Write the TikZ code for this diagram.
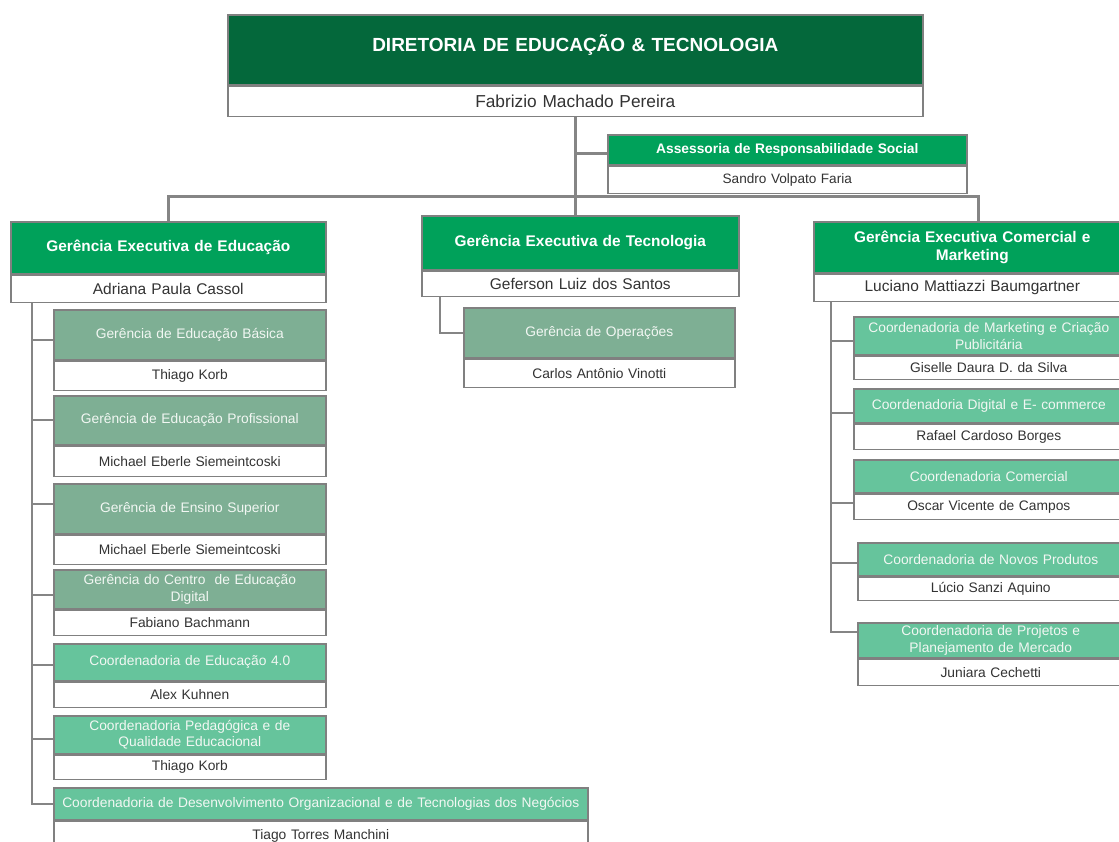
\documentclass[tikz,border=0pt]{standalone}
\usepackage{fontspec}
\setmainfont{Liberation Sans}
\usetikzlibrary{calc}
\definecolor{topgreen}{HTML}{04683B}
\definecolor{exgreen}{HTML}{00A15A}
\definecolor{mutedgreen}{HTML}{7EAF94}
\definecolor{lightgreen}{HTML}{66C49C}
\definecolor{bordergray}{HTML}{808080}
\definecolor{linegray}{HTML}{858585}
\definecolor{nametext}{HTML}{333333}
\definecolor{hdrtext}{HTML}{F2F7F3}
\begin{document}
\begin{tikzpicture}[x=1pt,y=-1pt,
  hdr/.style n args={2}{draw=bordergray, line width=1.6pt, anchor=north west,
     inner xsep=0pt, inner ysep=0pt, align=center, text=white,
     minimum width=#1pt, text width=#1pt, minimum height=#2pt},
  nm/.style n args={2}{draw=bordergray, line width=1.6pt, anchor=north west, fill=white,
     inner xsep=0pt, inner ysep=0pt, align=center, text=nametext,
     minimum width=#1pt, text width=#1pt, minimum height=#2pt},
  topfont/.style={font=\fontsize{19}{22}\selectfont\bfseries, text depth=13pt},
  topname/.style={font=\fontsize{17.3}{20}\selectfont},
  exfont/.style={font=\fontsize{15.4}{18.5}\selectfont\bfseries},
  exname/.style={font=\fontsize{15.5}{18}\selectfont},
  assfont/.style={font=\fontsize{13.8}{16}\selectfont\bfseries},
  assname/.style={font=\fontsize{13.6}{16}\selectfont},
  subfont/.style={font=\fontsize{13.8}{16.8}\selectfont, text=hdrtext},
  subname/.style={font=\fontsize{13.8}{16}\selectfont},
  link/.style={draw=linegray, line width=3pt},
  branch/.style={draw=linegray, line width=2pt}
]
\useasboundingbox (0,0) rectangle (1119,841);
\clip (0,0) rectangle (1119,841);

\coordinate (bus) at (0,196);

% ---------- top
\node[hdr={695}{70}, fill=topgreen, topfont] (top) at (227,14) {DIRETORIA DE EDUCAÇÃO \& TECNOLOGIA};
\node[nm={695}{30}, topname] (topn) at (top.south west) {Fabrizio Machado Pereira};

% ---------- assessoria
\node[hdr={359}{30}, fill=exgreen, assfont] (ass) at (607,134) {Assessoria de Responsabilidade Social};
\node[nm={359}{27}, assname] (assn) at (ass.south west) {Sandro Volpato Faria};

% ---------- executives
\node[hdr={315}{52}, fill=exgreen, exfont] (ed) at (10,221) {Gerência Executiva de Educação};
\node[nm={315}{27}, exname] (edn) at (ed.south west) {Adriana Paula Cassol};

\node[hdr={317}{54}, fill=exgreen, exfont] (tec) at (421,215) {Gerência Executiva de Tecnologia};
\node[nm={317}{25}, exname] (tecn) at (tec.south west) {Geferson Luiz dos Santos};

\node[hdr={317}{51}, fill=exgreen, exfont] (com) at (813,221) {Gerência Executiva Comercial e\\Marketing};
\node[nm={317}{27}, exname] (comn) at (com.south west) {Luciano Mattiazzi Baumgartner};

% ---------- education children
\node[hdr={272}{50}, fill=mutedgreen, subfont] (c1) at (53,309) {Gerência de Educação Básica};
\node[nm={272}{29}, subname] (c1n) at (c1.south west) {Thiago Korb};
\node[hdr={272}{49}, fill=mutedgreen, subfont] (c2) at (53,395) {Gerência de Educação Profissional};
\node[nm={272}{30}, subname] (c2n) at (c2.south west) {Michael Eberle Siemeintcoski};
\node[hdr={272}{50}, fill=mutedgreen, subfont] (c3) at (53,483) {Gerência de Ensino Superior};
\node[nm={272}{29}, subname] (c3n) at (c3.south west) {Michael Eberle Siemeintcoski};
\node[hdr={272}{39}, fill=mutedgreen, subfont] (c4) at (53,569) {Gerência do Centro\ \ de Educação\\Digital};
\node[nm={272}{25}, subname] (c4n) at (c4.south west) {Fabiano Bachmann};
\node[hdr={272}{37}, fill=lightgreen, subfont] (c5) at (53,643) {Coordenadoria de Educação 4.0};
\node[nm={272}{25}, subname] (c5n) at (c5.south west) {Alex Kuhnen};
\node[hdr={272}{38}, fill=lightgreen, subfont] (c6) at (53,715) {Coordenadoria Pedagógica e de\\Qualidade Educacional};
\node[nm={272}{24}, subname] (c6n) at (c6.south west) {Thiago Korb};
\node[hdr={534}{32}, fill=lightgreen, subfont] (c7) at (53,787) {Coordenadoria de Desenvolvimento Organizacional e de Tecnologias dos Negócios};
\node[nm={534}{30}, subname] (c7n) at (c7.south west) {\raisebox{-4pt}{Tiago Torres Manchini}};

% ---------- technology child
\node[hdr={271}{50}, fill=mutedgreen, subfont] (t1) at (463,307) {Gerência de Operações};
\node[nm={271}{28}, subname] (t1n) at (t1.south west) {Carlos Antônio Vinotti};

% ---------- commercial children
\node[hdr={270}{38}, fill=lightgreen, subfont] (r1) at (853,316) {Coordenadoria de Marketing e Criação\\Publicitária};
\node[nm={270}{23}, subname] (r1n) at (r1.south west) {Giselle Daura D. da Silva};
\node[hdr={270}{34}, fill=lightgreen, subfont] (r2) at (853,388) {Coordenadoria Digital e E- commerce};
\node[nm={270}{25}, subname] (r2n) at (r2.south west) {Rafael Cardoso Borges};
\node[hdr={270}{33}, fill=lightgreen, subfont] (r3) at (853,459) {Coordenadoria Comercial};
\node[nm={270}{25}, subname] (r3n) at (r3.south west) {Oscar Vicente de Campos};
\node[hdr={266}{33}, fill=lightgreen, subfont] (r4) at (857,542) {Coordenadoria de Novos Produtos};
\node[nm={266}{23}, subname] (r4n) at (r4.south west) {Lúcio Sanzi Aquino};
\node[hdr={266}{35}, fill=lightgreen, subfont] (r5) at (857,622) {Coordenadoria de Projetos e\\Planejamento de Mercado};
\node[nm={266}{26}, subname] (r5n) at (r5.south west) {Juniara Cechetti};

% ---------- connectors
\draw[link] (topn.south) -- (topn.south |- tec.north);
\draw[link] ($(ass.west -| topn.south)+(0,4)$) -- ($(ass.west)+(0,4)$);
\draw[link] (ed.north) -- (ed.north |- bus) -- ($(com.north |- bus)+(8,0)$);
\draw[link] ($(com.north)+(6,0)$) -- ($(com.north |- bus)+(6,0)$);

\coordinate (edspine) at ($(edn.south west)+(22,0)$);
\draw[branch] (edspine) |- (c7.west);
\foreach \c/\d in {c1/5,c2/0,c3/-5,c4/6,c5/3,c6/4} {
  \draw[branch] ($(\c.west)+(0,\d)$) -- ($(\c.west -| edspine)+(0,\d)$);
}

\coordinate (tecspine) at ($(tecn.south west)+(19,0)$);
\draw[branch] (tecspine) |- (t1.west);

\coordinate (comspine) at ($(comn.south west)+(18,0)$);
\draw[branch] (comspine) |- ($(r5.west)+(0,-8)$);
\draw[branch] ($(r1.west)+(0,5)$) -- ($(r1.west -| comspine)+(0,5)$);
\draw[branch] ($(r2.west)+(0,7)$) -- ($(r2.west -| comspine)+(0,7)$);
\draw[branch] ($(r3n.west)+(0,-4)$) -- ($(r3n.west -| comspine)+(0,-4)$);
\draw[branch] ($(r4.west)+(0,4)$) -- ($(r4.west -| comspine)+(0,4)$);
\end{tikzpicture}
\end{document}
